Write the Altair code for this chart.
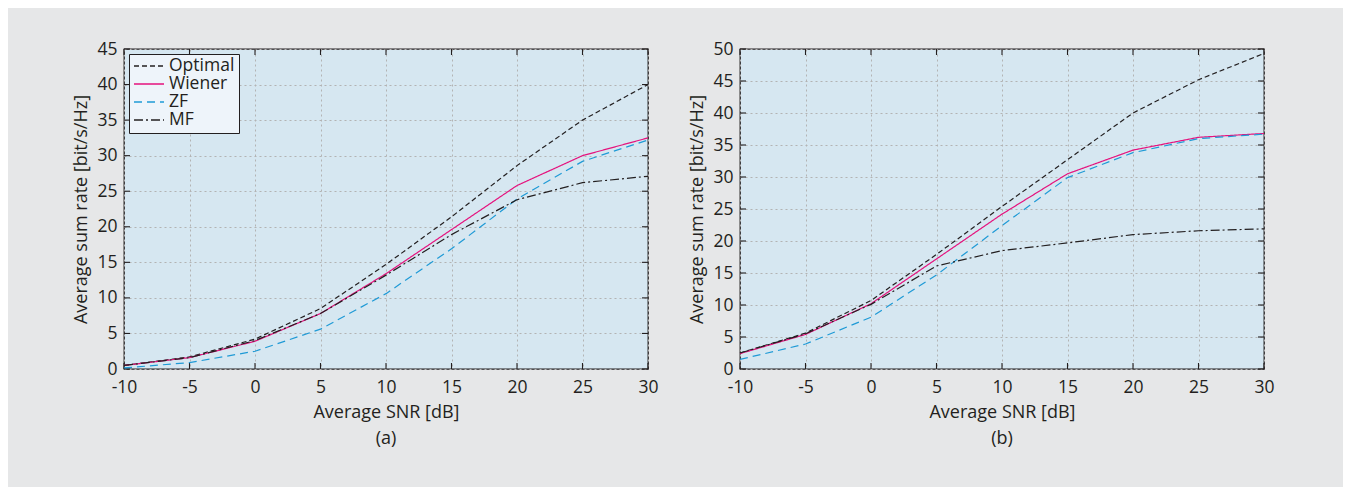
import altair as alt
import pandas as pd

# ---------------- data ----------------
snr = [-10, -5, 0, 5, 10, 15, 20, 25, 30]
series = ["Optimal", "Wiener", "ZF", "MF"]

a_optimal = [0.5, 1.7, 4.2, 8.5, 14.7, 21.4, 28.6, 35.0, 40.0]
a_wiener = [0.5, 1.6, 3.9, 7.8, 13.4, 19.6, 25.8, 30.0, 32.5]
a_zf = [0.15, 0.9, 2.5, 5.6, 10.6, 16.9, 23.9, 29.2, 32.2]
a_mf = [0.5, 1.6, 4.0, 7.8, 13.2, 18.9, 23.8, 26.2, 27.1]

b_optimal = [2.5, 5.6, 10.7, 17.9, 25.4, 32.7, 40.0, 45.2, 49.3]
b_wiener = [2.4, 5.4, 10.2, 17.2, 24.2, 30.5, 34.2, 36.2, 36.8]
b_zf = [1.5, 3.9, 8.1, 14.7, 22.4, 29.9, 33.8, 36.0, 36.7]
b_mf = [2.5, 5.5, 10.1, 16.1, 18.5, 19.7, 21.0, 21.6, 21.9]

x_ticks = [-10, -5, 0, 5, 10, 15, 20, 25, 30]
a_y_ticks = [0, 5, 10, 15, 20, 25, 30, 35, 40, 45]
b_y_ticks = [0, 5, 10, 15, 20, 25, 30, 35, 40, 45, 50]

x_title = "Average SNR [dB]"
y_title = "Average sum rate [bit/s/Hz]"

# ---------------- styles ----------------
FONT = "Open Sans"
TEXT = "#231f20"
colors = ["#231f20", "#e5127d", "#1f9ad6", "#231f20"]
dashes = [[5, 3], [1, 0], [8, 5], [9, 3, 2, 3]]
W, H = 524, 320
TICK = 6


def long_df(vals):
    rows = []
    for name, ys in zip(series, vals):
        for x, y in zip(snr, ys):
            rows.append({"snr": x, "rate": y, "scheme": name})
    return pd.DataFrame(rows)


def panel(vals, y_ticks, label):
    df = long_df(vals)
    ymax = y_ticks[-1]
    xscale = alt.Scale(domain=[-10, 30], nice=False, zero=False)
    yscale = alt.Scale(domain=[0, ymax], nice=False, zero=False)

    xaxis = alt.Axis(values=x_ticks, title=x_title, labelExpr="'' + datum.value",
                     labelFlush=False, labelOverlap=False, labelPadding=9, titlePadding=8)
    yaxis = alt.Axis(values=y_ticks, title=y_title, labelExpr="'' + datum.value",
                     labelOverlap=False, labelPadding=7, titlePadding=6)

    lines = alt.Chart(df).mark_line(strokeWidth=1.2).encode(
        x=alt.X("snr:Q", scale=xscale, axis=xaxis),
        y=alt.Y("rate:Q", scale=yscale, axis=yaxis),
        color=alt.Color("scheme:N", scale=alt.Scale(domain=series, range=colors),
                        sort=series,
                        legend=alt.Legend(title=None, orient="top-left", offset=5,
                                          fillColor="#eef4fa", strokeColor="#231f20",
                                          padding=4, symbolType="stroke", symbolSize=900,
                                          symbolStrokeWidth=1.3, labelFontSize=17.5,
                                          labelFont=FONT, labelColor=TEXT, labelOffset=4,
                                          clipHeight=16, rowPadding=0)),
        strokeDash=alt.StrokeDash("scheme:N", scale=alt.Scale(domain=series, range=dashes),
                                  sort=series, legend=alt.Legend(title=None)),
    )

    xt = pd.DataFrame({"v": x_ticks})
    yt = pd.DataFrame({"v": y_ticks})
    tick_style = dict(color="#231f20", strokeWidth=1.1)
    top = alt.Chart(xt).mark_rule(**tick_style).encode(
        x=alt.X("v:Q", scale=xscale, axis=xaxis, title=x_title),
        y=alt.value(0), y2=alt.value(TICK))
    bottom = alt.Chart(xt).mark_rule(**tick_style).encode(
        x=alt.X("v:Q", scale=xscale, axis=xaxis, title=x_title),
        y=alt.value(H), y2=alt.value(H - TICK))
    left = alt.Chart(yt).mark_rule(**tick_style).encode(
        y=alt.Y("v:Q", scale=yscale, axis=yaxis, title=y_title),
        x=alt.value(0), x2=alt.value(TICK))
    right = alt.Chart(yt).mark_rule(**tick_style).encode(
        y=alt.Y("v:Q", scale=yscale, axis=yaxis, title=y_title),
        x=alt.value(W - TICK), x2=alt.value(W))

    return alt.layer(top, bottom, left, right, lines).properties(
        width=W, height=H,
        title=alt.TitleParams(text=label, orient="bottom", anchor="middle",
                              fontSize=18, fontWeight="normal", font=FONT,
                              color=TEXT, offset=8),
    )


pa = panel([a_optimal, a_wiener, a_zf, a_mf], a_y_ticks, "(a)")
pb = panel([b_optimal, b_wiener, b_zf, b_mf], b_y_ticks, "(b)")

chart = alt.hconcat(pa, pb, spacing=92, bounds="flush").properties(
    background="#e6e7e8",
    padding={"left": 64, "top": 31, "right": 68, "bottom": 45},
).configure_view(
    fill="#d6e7f1", stroke="#231f20", strokeWidth=1.3
).configure_axis(
    labelFont=FONT, labelFontSize=17.5, labelColor=TEXT,
    titleFont=FONT, titleFontSize=18, titleFontWeight="normal", titleColor=TEXT,
    ticks=False, domain=False, grid=True,
    gridColor="#b3b3b3", gridDash=[2, 3], gridWidth=1,
)

chart.save("out.html", embed_options={"renderer": "svg", "actions": False})
